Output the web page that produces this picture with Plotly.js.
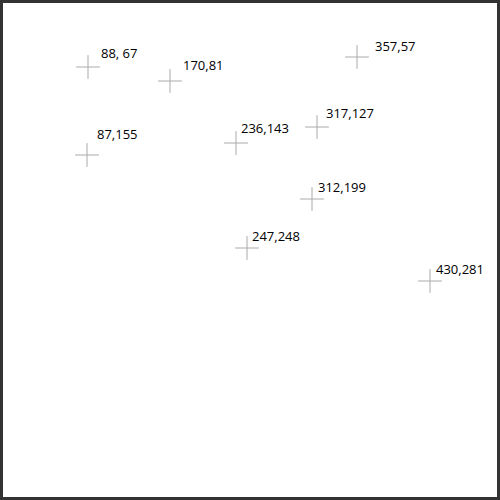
<!DOCTYPE html>
<html>
<head>
<meta charset="utf-8">
<script src="https://cdn.plot.ly/plotly-3.0.1.min.js"></script>
<style>html,body{margin:0;padding:0;background:#fff;}#chart{width:500px;height:500px;}</style>
</head>
<body>
<div id="chart"></div>
<script>
// data
const xs = [88, 170, 357, 87, 236, 317, 312, 247, 430];
const ys = [67, 81, 57, 155, 143, 127, 199, 248, 281];
const labels = ["88, 67", "170,81", "357,57", "87,155", "236,143", "317,127", "312,199", "247,248", "430,281"];

// label placement (pixel nudges, layout only)
const labelDx = [11, 11, 16, 8, 3, 7, 4, 3, 4];
const labelDy = [3, 5, 0, 10, 4, 3, 1, 1, 1];

const trace = {
  x: xs, y: ys, type: 'scatter', mode: 'markers', hoverinfo: 'none',
  marker: {symbol: 'cross-thin', size: 17, color: '#aaaaaa', line: {color: '#aaaaaa', width: 1}}
};

const annotations = xs.map((x, i) => ({
  x: x, y: ys[i], xref: 'x', yref: 'y', text: labels[i], showarrow: false,
  xanchor: 'left', yanchor: 'bottom', xshift: labelDx[i], yshift: labelDy[i],
  font: {family: 'Open Sans, sans-serif', size: 13, color: '#000'}
}));

const layout = {
  width: 500, height: 500, margin: {l: 0, r: 0, t: 0, b: 0},
  paper_bgcolor: '#fff', plot_bgcolor: '#fff', showlegend: false,
  xaxis: {range: [0, 500], visible: false, fixedrange: true},
  yaxis: {range: [500, 0], visible: false, fixedrange: true},
  annotations: annotations,
  shapes: [{type: 'rect', xref: 'x', yref: 'y', x0: 1.5, x1: 498.5, y0: 1.5, y1: 498.5,
    line: {color: '#333333', width: 3}}]
};

Plotly.newPlot('chart', [trace], layout, {staticPlot: true});
</script>
</body>
</html>
